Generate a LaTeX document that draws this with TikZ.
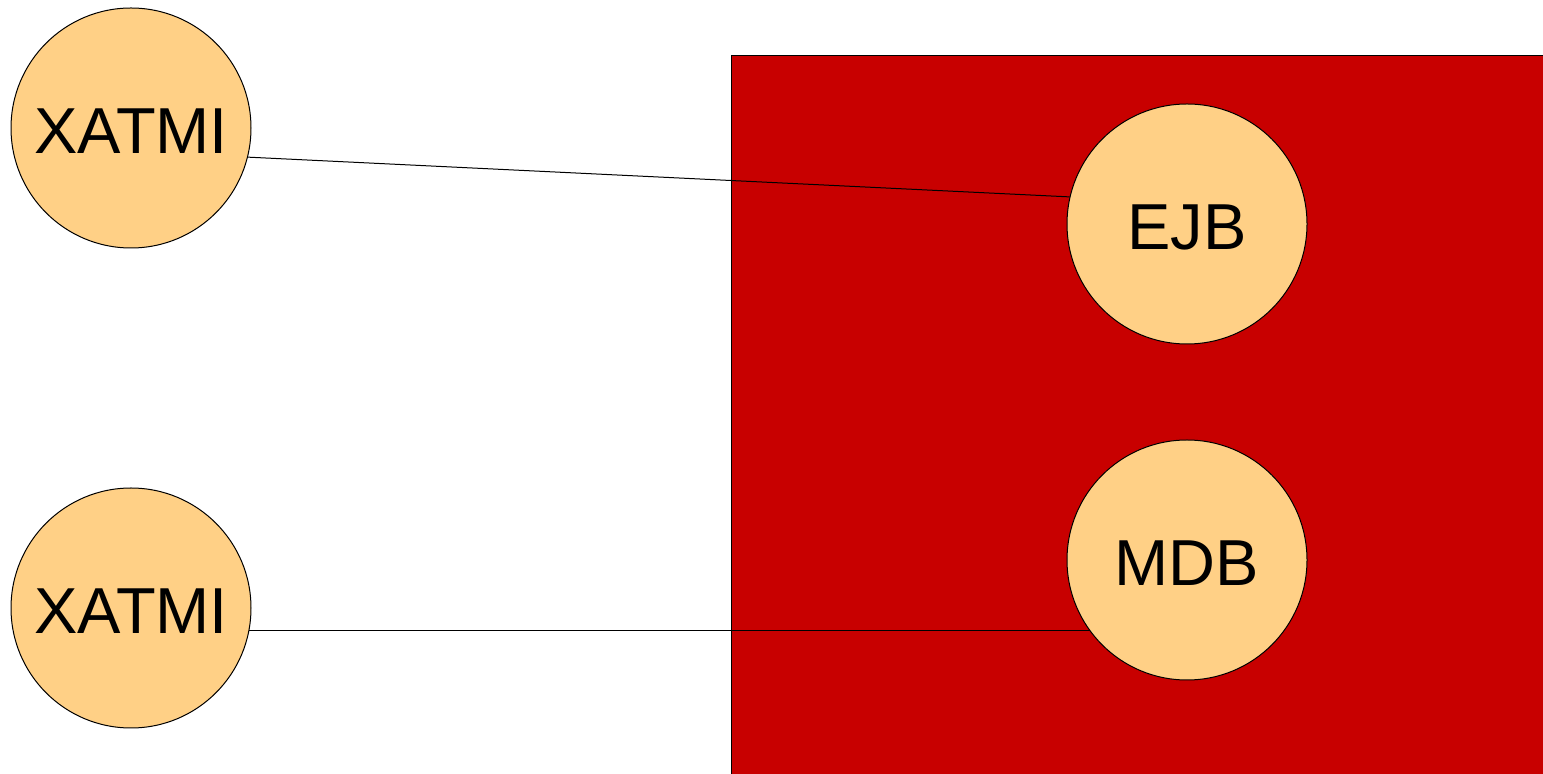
\documentclass[tikz,border=0pt]{standalone}
\usepackage{fontspec}
\setmainfont{Liberation Sans}
\definecolor{boxred}{HTML}{C80000}
\definecolor{nodefill}{HTML}{FFD086}
\begin{document}
\begin{tikzpicture}[x=0.5pt,y=-0.5pt,
  comp/.style={circle,draw=black,line width=0.5pt,fill=nodefill,minimum size=120pt,inner sep=0pt,
    text height=26pt,text depth=0pt,font=\fontsize{32.5pt}{32.5pt}\selectfont},
  link/.style={draw=black,line width=0.5pt}]
\useasboundingbox (0,0) rectangle (1543,774);
\fill[white] (0,0) rectangle (1543,774);
\draw[fill=boxred,draw=black,line width=0.5pt] (731,56) rectangle (1560,790);
\node[comp] (x1) at (131,128) {XATMI};
\node[comp] (x2) at (131,608) {XATMI};
\node[comp] (ejb) at (1187,224) {EJB};
\node[comp] (mdb) at (1187,560) {MDB};
\draw[link] (x1.-14) -- (ejb.167);
\coordinate (m) at (mdb.216.6);
\draw[link] (x2.-11.5) -- (x2.-11.5 -| m);
\end{tikzpicture}
\end{document}
